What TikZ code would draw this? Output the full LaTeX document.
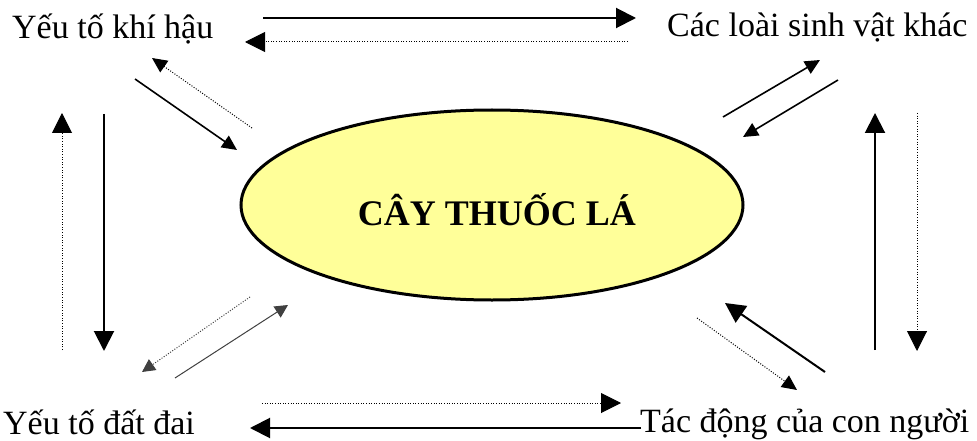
\documentclass[tikz,border=0pt]{standalone}
\usepackage{fontspec}
\setmainfont{Liberation Serif}
\usetikzlibrary{arrows.meta}
\definecolor{lightyel}{HTML}{FFFF99}
\begin{document}
\begin{tikzpicture}[x=1pt,y=-1pt,
  lbl/.style={inner sep=0pt,anchor=base west,font=\fontsize{34}{40}\selectfont},
  big/.style={-{Triangle[length=20pt,width=20pt]},line width=2pt},
  bigdot/.style={-{Triangle[length=20pt,width=20pt]},line width=1pt,dash pattern=on 1pt off 1.6pt},
  diag/.style={-{Triangle[length=15pt,width=14pt]},line width=1.6pt},
  diagdot/.style={-{Triangle[length=15pt,width=14pt]},line width=1pt,dash pattern=on 1pt off 1.6pt},
  diagthin/.style={-{Triangle[length=13pt,width=13pt]},line width=1pt,draw=black!75},
  diagdotthin/.style={-{Triangle[length=13pt,width=13pt]},line width=1pt,dash pattern=on 1pt off 1.6pt,draw=black!75}]
\useasboundingbox (0,0) rectangle (977,441);
% nodes
\node[lbl] (khihau) at (12,39) {Yếu tố khí hậu};
\node[lbl] (sinhvat) at (667,37) {Các loài sinh vật khác};
\node[lbl] (datdai) at (3,434) {Yếu tố đất đai};
\node[lbl] (connguoi) at (640,432) {Tác động của con người};
\draw[line width=3pt,fill=lightyel] (492,205) ellipse [x radius=251pt,y radius=95pt];
\node[inner sep=0pt,font=\fontsize{36}{42}\selectfont\bfseries] (cay) at (497,210) {CÂY THUỐC LÁ};
% arrow end points
\coordinate (t1a) at (263,18);  \coordinate (t1b) at (636,18);
\coordinate (t2a) at (628,42);  \coordinate (t2b) at (245,42);
\coordinate (b1a) at (262,403); \coordinate (b1b) at (621,403);
\coordinate (b2a) at (641,428); \coordinate (b2b) at (250,428);
\coordinate (l1a) at (62,350);  \coordinate (l1b) at (62,113);
\coordinate (l2a) at (104,114); \coordinate (l2b) at (104,351);
\coordinate (r1a) at (875,350); \coordinate (r1b) at (875,113);
\coordinate (r2a) at (917,113); \coordinate (r2b) at (917,351);
\coordinate (tl1a) at (252,128); \coordinate (tl1b) at (152,58);
\coordinate (tl2a) at (135,79);  \coordinate (tl2b) at (237,150);
\coordinate (tr1a) at (723,117); \coordinate (tr1b) at (820,60);
\coordinate (tr2a) at (838,80);  \coordinate (tr2b) at (743,137);
\coordinate (bl1a) at (250,297); \coordinate (bl1b) at (142,372);
\coordinate (bl2a) at (175,378); \coordinate (bl2b) at (288,305);
\coordinate (br1a) at (825,372); \coordinate (br1b) at (725,303);
\coordinate (br2a) at (697,318); \coordinate (br2b) at (797,390);
% connectors
\draw[big] (t1a) -- (t1b);
\draw[bigdot] (t2a) -- (t2b);
\draw[bigdot] (b1a) -- (b1b);
\draw[big] (b2a) -- (b2b);
\draw[bigdot] (l1a) -- (l1b);
\draw[big] (l2a) -- (l2b);
\draw[big] (r1a) -- (r1b);
\draw[bigdot] (r2a) -- (r2b);
\draw[diagdot] (tl1a) -- (tl1b);
\draw[diag] (tl2a) -- (tl2b);
\draw[diag] (tr1a) -- (tr1b);
\draw[diag] (tr2a) -- (tr2b);
\draw[diagdotthin] (bl1a) -- (bl1b);
\draw[diagthin] (bl2a) -- (bl2b);
\draw[big] (br1a) -- (br1b);
\draw[diagdot] (br2a) -- (br2b);
\end{tikzpicture}
\end{document}
